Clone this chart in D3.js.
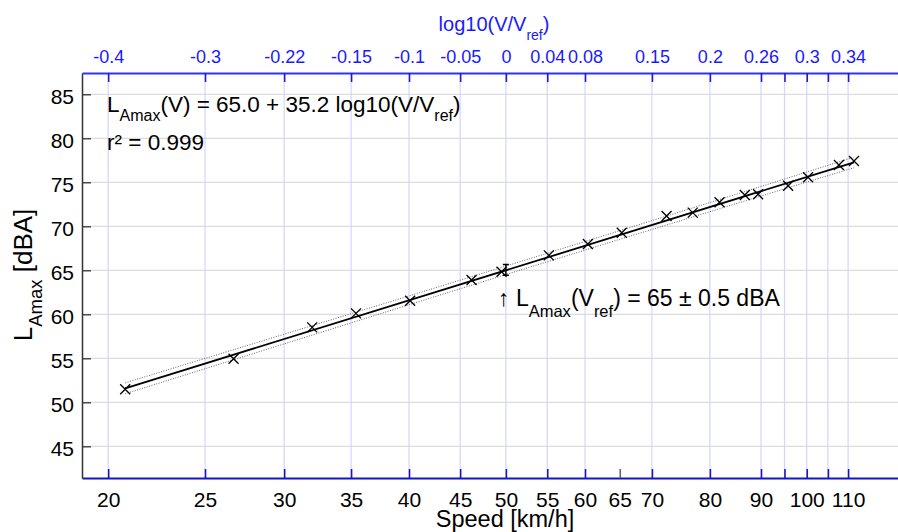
<!DOCTYPE html>
<html><head><meta charset="utf-8">
<script src="https://cdn.jsdelivr.net/npm/d3@7"></script>
<style>body{margin:0;background:#fff} svg{display:block} text{font-family:"Liberation Sans",Arial,Helvetica,sans-serif}</style>
</head><body><svg id="c" width="898" height="532"></svg>
<script>
// ---- data ----
const speeds = [20.8,26.7,32.0,35.4,40.1,46.2,49.5,55.2,60.4,65.3,72.4,76.9,81.8,86.7,89.4,95.8,100.3,107.7,111.5];
const levels = [51.48,54.95,58.52,60.11,61.55,63.90,64.84,66.70,67.99,69.26,71.17,71.55,72.73,73.56,73.64,74.61,75.57,76.97,77.42];
const fitSpeeds = [20.8,111.5];
const fitLevels = [51.59,77.26];
const bandSpeeds = [20.8,30,40,50,65,85,111.5];
const bandUpper = [52.21,57.74,62.09,65.48,69.50,73.64,77.86];
const bandLower = [50.97,56.64,61.09,64.52,68.52,72.58,76.66];
const refSpeed = 50;
const refErr = [64.45,65.65];
const yTicks = [45,50,55,60,65,70,75,80,85];
const bottomTickValues = [20,25,30,35,40,45,50,55,60,65,70,80,90,95,100,105,110];
const bottomTickLabels = ["20","25","30","35","40","45","50","55","60","65","70","80","90","","100","","110"];
const topTickSpeeds = [20,25,30,35,40,45,50,55,60,70,80,90,95,100,105,110];
const topTickLabels = ["-0.4","-0.3","-0.22","-0.15","-0.1","-0.05","0","0.04","0.08","0.15","0.2","0.26","","0.3","","0.34"];

// ---- layout ----
const L = 82, R = 898, T = 73, B = 478;
const svg = d3.select("#c");
const x = d3.scaleLog().domain([18.83,123.4]).range([L,R]);
const y = d3.scaleLinear().domain([41.4,87.42]).range([B,T]);
const xTop = d3.scaleLinear().domain([Math.log10(18.83/refSpeed), Math.log10(123.4/refSpeed)]).range([L,R]);

// grids
svg.append("g").selectAll("line").data(yTicks).join("line")
  .attr("x1",L).attr("x2",R).attr("y1",d=>y(d)).attr("y2",d=>y(d))
  .attr("stroke","#dcdcdc").attr("stroke-width",1.2);
svg.append("g").selectAll("line").data(topTickSpeeds).join("line")
  .attr("x1",d=>x(d)).attr("x2",d=>x(d)).attr("y1",T).attr("y2",B)
  .attr("stroke","#d4d4ff").attr("stroke-width",1.2);

// band
const lineGen = d3.line().x(d=>x(d[0])).y(d=>y(d[1]));
[bandUpper,bandLower].forEach(arr=>{
  svg.append("path").attr("d",lineGen(bandSpeeds.map((v,i)=>[v,arr[i]])))
    .attr("fill","none").attr("stroke","#666").attr("stroke-width",1)
    .attr("stroke-dasharray","1,1.5");
});
// fit line
svg.append("path").attr("d",lineGen(fitSpeeds.map((v,i)=>[v,fitLevels[i]])))
  .attr("fill","none").attr("stroke","#000").attr("stroke-width",1.8);

// markers
const m = 5;
svg.append("g").selectAll("path").data(speeds.map((v,i)=>[v,levels[i]])).join("path")
  .attr("d",d=>{const cx=x(d[0]),cy=y(d[1]);return `M${cx-m},${cy-m}L${cx+m},${cy+m}M${cx-m},${cy+m}L${cx+m},${cy-m}`;})
  .attr("stroke","#000").attr("stroke-width",1.3).attr("fill","none");

// error bar
const ex = x(refSpeed);
svg.append("path").attr("d",`M${ex},${y(refErr[0])}V${y(refErr[1])}M${ex-3},${y(refErr[0])}H${ex+3}M${ex-3},${y(refErr[1])}H${ex+3}`)
  .attr("stroke","#000").attr("stroke-width",1.5).attr("fill","none");

// axes
const gl = svg.append("g").attr("transform",`translate(${L},0)`)
  .call(d3.axisLeft(y).tickValues(yTicks).tickSize(-9).tickSizeOuter(0).tickPadding(8));
gl.select(".domain").attr("stroke","#333").attr("stroke-width",1.5);
gl.selectAll(".tick line").attr("stroke","#333").attr("stroke-width",1.3);
gl.selectAll("text").attr("font-size",21).attr("fill","#000").attr("dy","0.42em");
gl.attr("font-family",null);

const gb = svg.append("g").attr("transform",`translate(0,${B})`)
  .call(d3.axisBottom(x).tickValues(bottomTickValues).tickFormat((d,i)=>bottomTickLabels[i]).tickSize(-9).tickSizeOuter(0).tickPadding(14));
gb.select(".domain").attr("stroke","#1414c8").attr("stroke-width",2);
gb.selectAll(".tick line").attr("stroke",d=>d===65?"#666":"#1414c8").attr("stroke-width",1.6);
gb.selectAll("text").attr("font-size",21).attr("fill","#000");
gb.attr("font-family",null);

const gt = svg.append("g").attr("transform",`translate(0,${T})`)
  .call(d3.axisTop(xTop).tickValues(topTickSpeeds.map(v=>Math.log10(v/refSpeed))).tickFormat((d,i)=>topTickLabels[i]).tickSize(-9).tickSizeOuter(0).tickPadding(10));
gt.select(".domain").attr("stroke","#3030ff").attr("stroke-width",2);
gt.selectAll(".tick line").attr("stroke","#1a1ad8").attr("stroke-width",1.6);
gt.selectAll("text").attr("font-size",18).attr("fill","#1a1aff");
gt.attr("font-family",null);

// titles
const tt = svg.append("text").attr("x",494).attr("y",31).attr("text-anchor","middle").attr("fill","#1a1aff").attr("font-size",20);
tt.append("tspan").text("log10(V/V");
tt.append("tspan").attr("font-size",14).attr("dy",9).text("ref");
tt.append("tspan").attr("dy",-9).text(")");

svg.append("text").attr("x",505).attr("y",527).attr("text-anchor","middle").attr("font-size",23.5).text("Speed [km/h]");

const yt = svg.append("text").attr("transform","translate(32,275) rotate(-90)").attr("text-anchor","middle").attr("font-size",26);
yt.append("tspan").text("L");
yt.append("tspan").attr("font-size",18.5).attr("dy",10).text("Amax");
yt.append("tspan").attr("dy",-10).text(" [dBA]");

// equation
const eq = svg.append("text").attr("x",107).attr("y",111.5).attr("font-size",22.5);
eq.append("tspan").text("L");
eq.append("tspan").attr("font-size",16).attr("dy",9).text("Amax");
eq.append("tspan").attr("dy",-9).text("(V) = 65.0 + 35.2 log10(V/V");
eq.append("tspan").attr("font-size",16).attr("dy",9).text("ref");
eq.append("tspan").attr("dy",-9).text(")");
svg.append("text").attr("x",107).attr("y",150).attr("font-size",22.5).text("r² = 0.999");

// annotation
const an = svg.append("text").attr("x",498).attr("y",305.5).attr("font-size",23);
an.append("tspan").text("↑ L");
an.append("tspan").attr("font-size",16.5).attr("dy",11).text("Amax");
an.append("tspan").attr("dy",-11).text("(V");
an.append("tspan").attr("font-size",16.5).attr("dy",11).text("ref");
an.append("tspan").attr("dy",-11).text(") = 65 ± 0.5 dBA");
</script></body></html>
